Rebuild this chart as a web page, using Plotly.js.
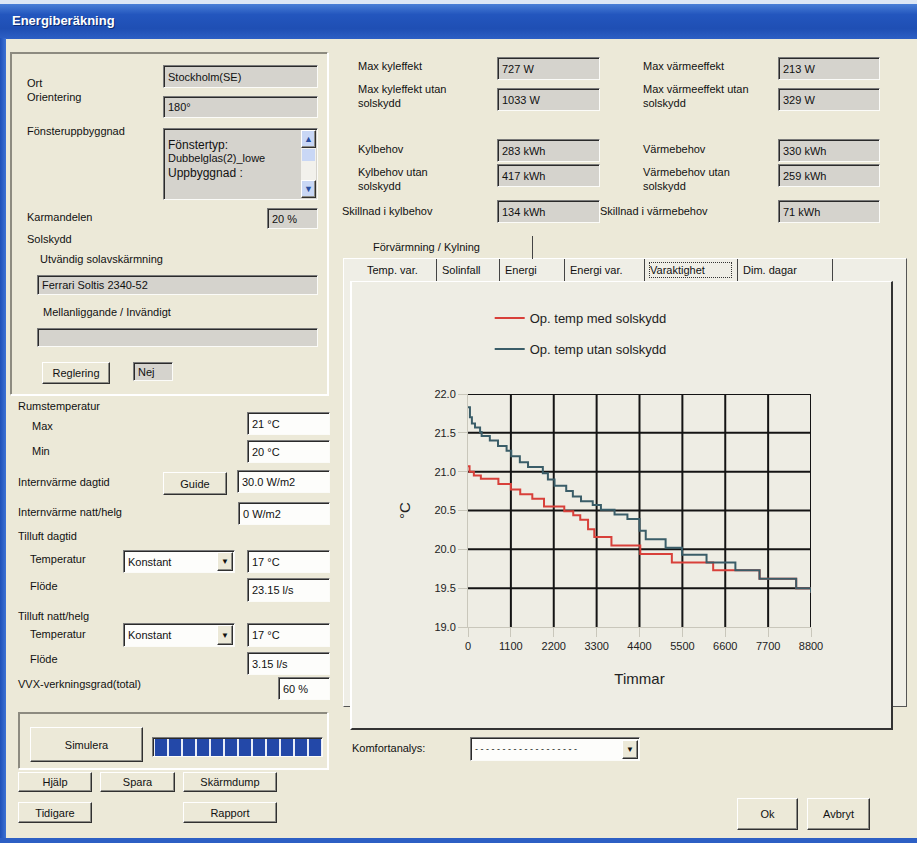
<!DOCTYPE html>
<html><head><meta charset="utf-8">
<script src="https://cdn.plot.ly/plotly-3.0.1.min.js"></script>
<style>
body{margin:0;width:917px;height:843px;overflow:hidden;background:#ece9d8;font-family:"Liberation Sans",Arial,sans-serif;font-size:11px;color:#111;position:relative}
.a{position:absolute;white-space:nowrap;box-sizing:border-box}
.lbl{line-height:13px}
.fld{border-top:1px solid #7a7a7a;border-left:1px solid #7a7a7a;border-bottom:1px solid #fbfbf8;border-right:1px solid #fbfbf8;box-shadow:inset 1px 1px 0 #2a2a2a;padding-left:4px;background:#d5d3cd;display:flex;align-items:center;overflow:hidden}
.w{background:#fdfdfb}
.btn{border-top:1px solid #fff;border-left:1px solid #fff;border-bottom:1px solid #303030;border-right:1px solid #303030;box-shadow:inset -1px -1px 0 #8c8c86;background:#ece9d8;display:flex;align-items:center;justify-content:center}
.grp{border-top:1px solid #8d8b80;border-left:1px solid #8d8b80;border-bottom:1px solid #fff;border-right:1px solid #fff;box-shadow:1px 1px 0 #8d8b80 inset, 1px 1px 0 #fff}
</style></head>
<body>
<div id="chart" class="a" style="left:352px;top:283px;width:540px;height:445px;z-index:5"></div>
<script>
// ---------- chart data ----------
const xTickVals = [0, 1100, 2200, 3300, 4400, 5500, 6600, 7700, 8800];
const yTickVals = [19.0, 19.5, 20.0, 20.5, 21.0, 21.5, 22.0];
const seriesNames = ['Op. temp med solskydd', 'Op. temp utan solskydd'];
const hoursMed = [0, 40, 150, 330, 780, 1100, 1340, 1650, 1950, 2470, 2700, 2880, 3080, 3240, 3680, 4420, 5230, 6290, 7480, 8420, 8800];
const tempMed  = [21.07, 21.00, 20.95, 20.91, 20.84, 20.77, 20.71, 20.65, 20.55, 20.49, 20.44, 20.38, 20.26, 20.16, 20.05, 19.94, 19.83, 19.73, 19.62, 19.50, 19.44];
const hoursUtan = [0, 50, 100, 180, 310, 350, 560, 770, 990, 1110, 1330, 1540, 1920, 2050, 2220, 2520, 2690, 2900, 3200, 3410, 3760, 4090, 4400, 4560, 5070, 5490, 6120, 6860, 7480, 8420, 8800];
const tempUtan  = [21.83, 21.70, 21.62, 21.57, 21.51, 21.46, 21.40, 21.33, 21.27, 21.20, 21.12, 21.06, 20.98, 20.90, 20.82, 20.75, 20.68, 20.62, 20.57, 20.51, 20.45, 20.39, 20.24, 20.13, 20.02, 19.93, 19.83, 19.73, 19.62, 19.50, 19.44];
const xTitle = 'Timmar';
const yTitle = '°C';

// ---------- dialog (static form around the chart) ----------
const body = document.body;
function el(cls, x, y, w, h, txt, extra) {
  const d = document.createElement('div');
  d.className = 'a ' + cls;
  d.style.left = x + 'px'; d.style.top = y + 'px';
  if (w != null) d.style.width = w + 'px';
  if (h != null) d.style.height = h + 'px';
  if (txt != null) d.textContent = txt;
  if (extra) Object.assign(d.style, extra);
  body.appendChild(d);
  return d;
}
function L(t, x, cy) { return el('lbl', x, cy - 7, null, null, t); }
function L2(t1, t2, x, cy) { L(t1, x, cy); L(t2, x, cy + 14); }
function F(t, x, y, w, h, white) { return el('fld' + (white ? ' w' : ''), x, y, w, h, t); }
function B(t, x, y, w, h) { return el('btn', x, y, w, h, t); }
function combo(t, x, y, w, h) {
  const c = F(t, x, y, w, h, true);
  el('btn', x + w - 18, y + 2, 16, h - 4, '▼', {fontSize: '8px'});
  return c;
}

// title bar and frame
el('', 0, 0, 917, 5, null, {background: '#dde7f5'});
el('', 0, 4, 917, 35, null, {background: 'linear-gradient(#4a7fd6,#2356be 30%,#1f4fb4 70%,#2d5fc4)'});
el('', 12, 13, null, null, 'Energiberäkning', {color: '#fff', fontWeight: 'bold', fontSize: '13px', textShadow: '1px 1px 0 #0a2a70'});
el('', 0, 38, 6, 805, null, {background: 'linear-gradient(90deg,#1d4fb8,#3d72d4)'});
el('', 0, 838, 917, 5, null, {background: '#2d5fc4'});

// left group
el('grp', 10, 52, 318, 343);
L('Ort', 27, 84); F('Stockholm(SE)', 163, 65, 155, 23);
L('Orientering', 27, 98); F('180°', 163, 96, 155, 22);
L('Fönsteruppbyggnad', 27, 132);
const lb = F('', 163, 128, 155, 72);
el('', 168, 138, null, null, 'Fönstertyp:', {fontSize: '12px'});
el('', 168, 152, null, null, ' Dubbelglas(2)_lowe', {fontSize: '11px'});
el('', 168, 166, null, null, 'Uppbyggnad :', {fontSize: '12px'});
el('', 301, 130, 15, 68, null, {background: '#f2f1ec'});
el('btn', 301, 130, 15, 18, '▲', {fontSize: '9px', color: '#2b4fa0', background: '#c9d7f5'});
el('btn', 301, 180, 15, 18, '▼', {fontSize: '9px', color: '#2b4fa0', background: '#c9d7f5'});
el('', 302, 149, 13, 12, null, {background: '#c9d7f5'});
L('Karmandelen', 27, 218); F('20  %', 267, 208, 51, 21);
L('Solskydd', 27, 240);
L('Utvändig solavskärmning', 40, 260);
F('Ferrari Soltis 2340-52', 37, 275, 281, 20);
L('Mellanliggande / Invändigt', 43, 313);
F('', 37, 328, 281, 19);
B('Reglering', 42, 362, 68, 22); F('Nej', 133, 362, 40, 19);

// left lower controls
L('Rumstemperatur', 18, 407);
L('Max', 32, 427); F('21 °C', 247, 412, 83, 23, true);
L('Min', 32, 452); F('20 °C', 247, 440, 83, 23, true);
L('Internvärme dagtid', 18, 483); B('Guide', 163, 472, 64, 23); F('30.0  W/m2', 237, 470, 93, 23, true);
L('Internvärme natt/helg', 18, 513); F('0      W/m2', 238, 502, 92, 23, true);
L('Tilluft dagtid', 18, 537);
L('Temperatur', 30, 560); combo('Konstant', 123, 550, 112, 23); F('17   °C', 247, 550, 83, 23, true);
L('Flöde', 30, 587); F('23.15 l/s', 247, 578, 83, 24, true);
L('Tilluft natt/helg', 18, 617);
L('Temperatur', 30, 635); combo('Konstant', 123, 623, 112, 24); F('17   °C', 247, 623, 83, 24, true);
L('Flöde', 30, 660); F('3.15 l/s', 247, 652, 83, 23, true);
L('VVX-verkningsgrad(total)', 18, 685); F('60 %', 278, 677, 52, 23, true);
el('grp', 18, 712, 310, 57);
B('Simulera', 30, 727, 113, 35);
el('fld', 152, 737, 171, 20, null, {background: 'repeating-linear-gradient(90deg,#e9edf7 0 2px,#2348a8 2px 14px)'});
B('Hjälp', 18, 772, 74, 20); B('Spara', 100, 772, 75, 20); B('Skärmdump', 183, 772, 94, 20);
B('Tidigare', 18, 802, 74, 21); B('Rapport', 183, 802, 94, 21);

// top results
L('Max kyleffekt', 358, 67); F('727 W', 497, 57, 103, 23);
L2('Max kyleffekt utan', 'solskydd', 358, 90); F('1033 W', 497, 88, 103, 23);
L('Kylbehov', 358, 150); F('283 kWh', 497, 139, 103, 23);
L2('Kylbehov utan', 'solskydd', 358, 173); F('417 kWh', 497, 164, 103, 23);
L('Skillnad i kylbehov', 342, 212); F('134 kWh', 497, 200, 103, 23);
L('Max värmeeffekt', 643, 67); F('213 W', 778, 57, 102, 23);
L2('Max värmeeffekt utan', 'solskydd', 643, 90); F('329 W', 778, 88, 102, 23);
L('Värmebehov', 643, 150); F('330 kWh', 778, 139, 102, 23);
L2('Värmebehov utan', 'solskydd', 643, 173); F('259 kWh', 778, 164, 102, 23);
L('Skillnad i värmebehov', 600, 212); F('71 kWh', 778, 200, 102, 23);

// tab controls
el('', 343, 258, 564, 449, null, {borderTop: '1px solid #fff', borderLeft: '1px solid #fff', borderRight: '1px solid #555', borderBottom: '1px solid #555', background: '#efeee6'});
el('', 365, 236, 168, 23, 'Förvärmning / Kylning', {borderRight: '1px solid #444', paddingLeft: '8px', lineHeight: '22px'});
const tabs = [['Temp. var.', 362, 75], ['Solinfall', 437, 63], ['Energi', 500, 65], ['Energi var.', 565, 80], ['Varaktighet', 645, 93], ['Dim. dagar', 738, 95]];
tabs.forEach(([t, x, w]) => {
  el('', x, 259, w, 22, t, {borderRight: '1px solid #444', paddingLeft: '5px', lineHeight: '22px'});
});
el('', 649, 262, 83, 16, null, {border: '1px dotted #333'});
el('', 350, 281, 543, 449, null, {borderTop: '1px solid #fff', borderLeft: '2px solid #fff', borderRight: '2px solid #333', borderBottom: '2px solid #333', background: '#eeede4'});

// bottom
L('Komfortanalys:', 352, 749);
const kc = F('- - - - - - - - - - - - - - - - - - -', 470, 737, 170, 24, true);
kc.style.fontSize = '9px';
el('btn', 622, 740, 16, 19, '▼', {fontSize: '8px'});
B('Ok', 737, 798, 61, 32); B('Avbryt', 807, 798, 63, 32);

// ---------- chart ----------
const gridShapes = [];
xTickVals.filter(v => v !== xTickVals[0]).forEach(v => gridShapes.push({
  type: 'line', xref: 'x', yref: 'y', x0: v, x1: v, y0: yTickVals[0], y1: yTickVals[yTickVals.length - 1],
  line: {color: '#141414', width: 2}, layer: 'below'}));
yTickVals.filter(v => v !== yTickVals[0]).forEach(v => gridShapes.push({
  type: 'line', xref: 'x', yref: 'y', x0: xTickVals[0], x1: xTickVals[xTickVals.length - 1], y0: v, y1: v,
  line: {color: '#141414', width: 2}, layer: 'below'}));

const traces = [
  {x: hoursMed, y: tempMed, name: seriesNames[0], mode: 'lines', line: {shape: 'hv', color: '#d8403a', width: 2}, legendgroup: 'a'},
  {x: hoursUtan, y: tempUtan, name: seriesNames[1], mode: 'lines', line: {shape: 'hv', color: '#3a5d68', width: 2}, legendgroup: 'b'}
];
const layout = {
  width: 540, height: 445,
  margin: {l: 116, r: 81, t: 111, b: 101, pad: 0, autoexpand: false},
  paper_bgcolor: 'rgba(0,0,0,0)', plot_bgcolor: 'rgba(0,0,0,0)',
  font: {family: 'Liberation Sans, Arial, sans-serif', color: '#222', size: 11},
  showlegend: true,
  legend: {xref: 'container', yref: 'container', x: 0.255, y: 0.955, xanchor: 'left', yanchor: 'top',
           bgcolor: 'rgba(0,0,0,0)', font: {size: 13, color: '#222'}, tracegroupgap: 11, itemwidth: 30},
  xaxis: {range: [0, 8800], tickmode: 'array', tickvals: xTickVals, ticktext: xTickVals.map(String),
          showgrid: false, zeroline: false, showline: true, linecolor: '#c9c7bb', linewidth: 1,
          ticks: 'outside', ticklen: 9, tickcolor: '#c9c7bb', tickfont: {size: 11, color: '#222'},
          tickangle: 0,
          title: {text: xTitle, font: {size: 15, color: '#222'}, standoff: 22}, fixedrange: true},
  yaxis: {range: [19, 22], tickmode: 'array', tickvals: yTickVals, ticktext: yTickVals.map(v => v.toFixed(1)),
          showgrid: false, zeroline: false, showline: true, linecolor: '#c9c7bb', linewidth: 1,
          ticks: 'outside', ticklen: 9, tickcolor: '#c9c7bb', tickfont: {size: 11, color: '#222'},
          title: {text: ''}, fixedrange: true},
  annotations: [{text: yTitle, xref: 'paper', yref: 'paper', x: -0.185, y: 0.5, xanchor: 'center', yanchor: 'middle',
                 textangle: -90, showarrow: false, font: {size: 15, color: '#222'}}],
  shapes: gridShapes
};
Plotly.newPlot('chart', traces, layout, {displayModeBar: false, staticPlot: true});
</script>
</body></html>
